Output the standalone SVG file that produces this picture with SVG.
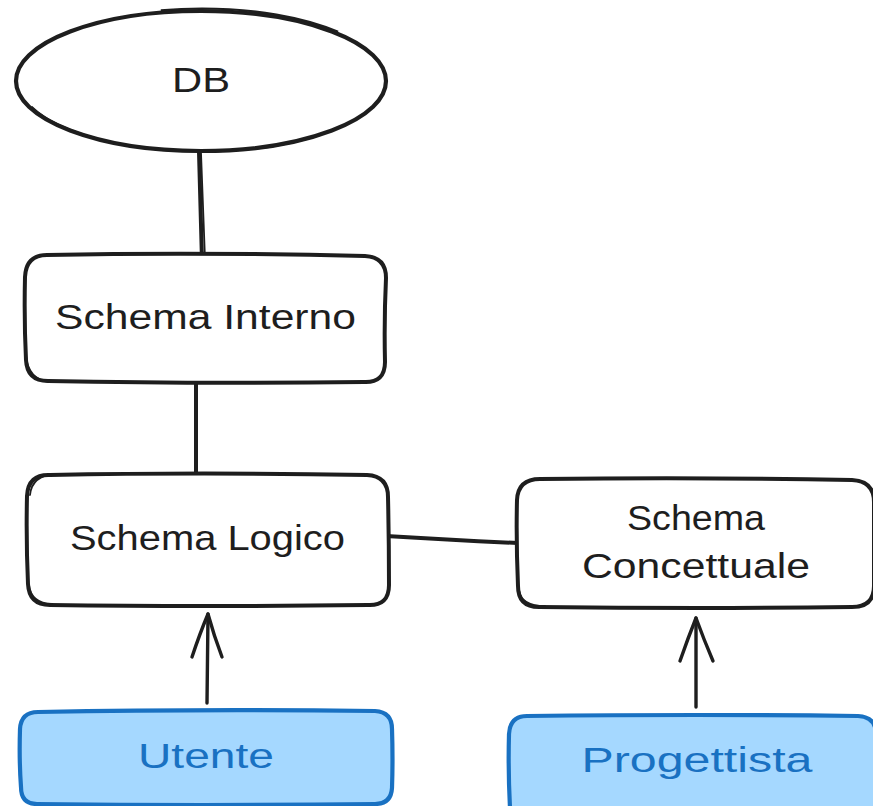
<svg xmlns="http://www.w3.org/2000/svg" width="873" height="806" viewBox="0 0 873 806">
  <defs>
    <style>
      .ink { fill: none; stroke: #1e1e1e; stroke-width: 4; stroke-linecap: round; stroke-linejoin: round; }
      .ink2 { fill: none; stroke: #1e1e1e; stroke-width: 1.8; stroke-linecap: round; stroke-linejoin: round; }
      .box { fill: #ffffff; stroke: #1e1e1e; stroke-width: 4; stroke-linejoin: round; }
      .actor { fill: #a5d8ff; stroke: #1971c2; stroke-width: 4.2; stroke-linejoin: round; }
      .lbl { font-family: "Liberation Sans", "Open Sans", sans-serif; font-size: 35px; fill: #1e1e1e; }
      .lbl-blue { font-family: "Liberation Sans", "Open Sans", sans-serif; font-size: 35px; fill: #1971c2; }
      .arrow { fill: none; stroke: #1e1e1e; stroke-width: 3.4; stroke-linecap: round; stroke-linejoin: round; }
    </style>
  </defs>

  <rect width="873" height="806" fill="#ffffff"/>

  <!-- connectors -->
  <g id="connectors">
    <path class="ink" d="M 199 152 L 202 261"/>
    <path class="ink2" d="M 201 153 L 205 259"/>
    <path class="ink" d="M 196 381 L 196 474"/>
    <path class="ink" d="M 386 536 Q 450 540 518 543"/>
    <!-- Utente -> Schema Logico -->
    <path class="arrow" d="M 207 703 L 208 614"/>
    <path class="arrow" d="M 192 657 Q 200 633 208 614 Q 214 636 222 657"/>
    <!-- Progettista -> Schema Concettuale -->
    <path class="arrow" d="M 696 707 L 696 618"/>
    <path class="arrow" d="M 680 661 Q 688 638 696 618 Q 704 640 713 661"/>
  </g>

  <!-- DB -->
  <g id="db">
    <ellipse cx="201" cy="81" rx="185" ry="70" fill="#ffffff" stroke="#1e1e1e" stroke-width="4.2"/>
    <ellipse cx="202" cy="80" rx="184" ry="71.5" fill="none" stroke="#1e1e1e" stroke-width="2.2" stroke-dasharray="0 90 300 200 180 200"/>
    <text class="lbl" x="201" y="92" text-anchor="middle" textLength="58" lengthAdjust="spacingAndGlyphs">DB</text>
  </g>

  <!-- Schema Interno -->
  <g id="schema-interno">
    <path class="box" d="M 47 255 Q 200 252 365 256 Q 386 257 386 278 Q 384 320 385 362 Q 385 383 364 382 Q 200 384 48 381 Q 27 381 26 360 Q 24 320 25 277 Q 26 255 47 255 Z"/>
    <path class="ink2" d="M 26 355 Q 28 380 50 382"/>
    <text class="lbl" x="205.5" y="329" text-anchor="middle" textLength="301" lengthAdjust="spacingAndGlyphs">Schema Interno</text>
  </g>

  <!-- Schema Logico -->
  <g id="schema-logico">
    <path class="box" d="M 50 475 Q 200 472 367 475 Q 388 476 388 497 Q 389 540 389 585 Q 389 606 368 605 Q 200 607 50 605 Q 29 605 28 584 Q 26 540 27 496 Q 28 474 50 475 Z"/>
    <path class="ink2" d="M 30 495 Q 32 475 56 474"/>
    <path class="ink2" d="M 29 585 Q 31 603 52 604"/>
    <text class="lbl" x="207.5" y="550" text-anchor="middle" textLength="275" lengthAdjust="spacingAndGlyphs">Schema Logico</text>
  </g>

  <!-- Schema Concettuale -->
  <g id="schema-concettuale">
    <path class="box" d="M 540 479 Q 700 477 852 480 Q 874 481 874 502 L 874 586 Q 874 607 852 607 Q 700 609 539 607 Q 518 607 518 586 Q 516 540 517 500 Q 518 479 540 479 Z"/>
    <path class="ink2" d="M 519 590 Q 521 606 545 606"/>
    <text class="lbl" x="696" y="530" text-anchor="middle" textLength="138" lengthAdjust="spacingAndGlyphs">Schema</text>
    <text class="lbl" x="696" y="578" text-anchor="middle" textLength="228" lengthAdjust="spacingAndGlyphs">Concettuale</text>
  </g>

  <!-- Utente -->
  <g id="utente">
    <path class="actor" d="M 38 712 Q 200 709 375 711 Q 392 712 392 729 Q 393 760 392 788 Q 391 804 375 804 Q 200 806 37 804 Q 21 804 21 787 Q 19 760 20 729 Q 21 712 38 712 Z"/>
    <text class="lbl-blue" x="206" y="768" text-anchor="middle" textLength="136" lengthAdjust="spacingAndGlyphs">Utente</text>
  </g>

  <!-- Progettista -->
  <g id="progettista">
    <path class="actor" d="M 527 716 Q 700 714 858 716 Q 876 717 876 734 L 876 808 L 510 808 Q 508 770 509 734 Q 510 716 527 716 Z"/>
    <text class="lbl-blue" x="697" y="772" text-anchor="middle" textLength="231" lengthAdjust="spacingAndGlyphs">Progettista</text>
  </g>
</svg>
